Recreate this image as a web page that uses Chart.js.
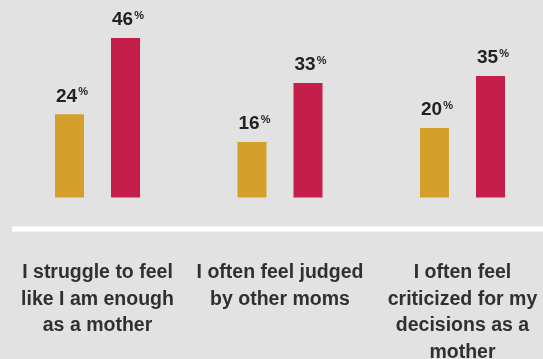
<!DOCTYPE html>
<html>
<head>
<meta charset="utf-8">
<script src="https://cdn.jsdelivr.net/npm/chart.js@4.4.1/dist/chart.umd.min.js"></script>
<style>
  html, body { margin: 0; padding: 0; background: #e2e2e2; overflow: hidden; }
  canvas { display: block; }
</style>
</head>
<body>
<canvas id="myChart" width="543" height="359"></canvas>
<script>
// categories (one entry per line of the label)
const categories = [
  ["I struggle to feel", "like I am enough", "as a mother"],
  ["I often feel judged", "by other moms"],
  ["I often feel", "criticized for my", "decisions as a", "mother"],
];
const goldValues = [24, 16, 20];
const crimsonValues = [46, 33, 35];
const goldColor = "#d4a02b";
const crimsonColor = "#c41e4a";

const valueFont = "bold 19px 'Liberation Sans', Arial, sans-serif";
const pctFont = "bold 11px 'Liberation Sans', Arial, sans-serif";
const catFont = "bold 19.5px 'Liberation Sans', Arial, sans-serif";

// white rule under the bars + category text below it
const baseAndCategories = {
  id: "baseAndCategories",
  beforeDatasetsDraw(chart) {
    const { ctx, chartArea } = chart;
    ctx.save();
    ctx.fillStyle = "#ffffff";
    ctx.fillRect(12, chartArea.bottom + 29, chart.width - 12, 5);
    ctx.restore();
  },
  afterDraw(chart) {
    const { ctx, chartArea } = chart;
    const x = chart.scales.x;
    ctx.save();
    ctx.font = catFont;
    ctx.fillStyle = "#303030";
    ctx.textAlign = "center";
    ctx.textBaseline = "alphabetic";
    categories.forEach((lines, i) => {
      const cx = x.getPixelForValue(i);
      lines.forEach((line, j) => {
        ctx.fillText(line, cx, chartArea.bottom + 80.5 + j * 26.7);
      });
    });
    ctx.restore();
  },
};

// "24%" style labels, percent sign as superscript
const valueLabels = {
  id: "valueLabels",
  afterDatasetsDraw(chart) {
    const ctx = chart.ctx;
    ctx.save();
    ctx.fillStyle = "#222222";
    ctx.textBaseline = "alphabetic";
    ctx.textAlign = "left";
    chart.data.datasets.forEach((ds, di) => {
      const meta = chart.getDatasetMeta(di);
      meta.data.forEach((bar, i) => {
        const num = String(ds.data[i]);
        ctx.font = valueFont;
        const numW = ctx.measureText(num).width;
        ctx.font = pctFont;
        const pctW = ctx.measureText("%").width;
        const total = numW + 1 + pctW;
        const left = bar.x + 2.5 - total / 2;
        const base = bar.y - 12.7;
        ctx.font = valueFont;
        ctx.fillText(num, left, base);
        ctx.font = pctFont;
        ctx.fillText("%", left + numW + 1, base - 6.5);
      });
    });
    ctx.restore();
  },
};

const ctx = document.getElementById("myChart").getContext("2d");
new Chart(ctx, {
  type: "bar",
  data: {
    labels: categories.map((c) => c.join(" ")),
    datasets: [
      {
        label: "Series 1",
        data: goldValues,
        backgroundColor: goldColor,
        clip: false,
      },
      {
        label: "Series 2",
        data: crimsonValues,
        backgroundColor: crimsonColor,
        clip: false,
      },
    ],
  },
  options: {
    responsive: false,
    animation: false,
    devicePixelRatio: 1,
    categoryPercentage: 0.614,
    barPercentage: 0.518,
    layout: {
      padding: { top: 24, left: 97.5, right: 80.5, bottom: 161.5 },
    },
    plugins: {
      legend: { display: false },
      tooltip: { enabled: false },
    },
    scales: {
      x: {
        display: false,
        offset: false,
      },
      y: {
        display: false,
        min: 0,
        max: 50,
      },
    },
  },
  plugins: [baseAndCategories, valueLabels],
});
</script>
</body>
</html>
